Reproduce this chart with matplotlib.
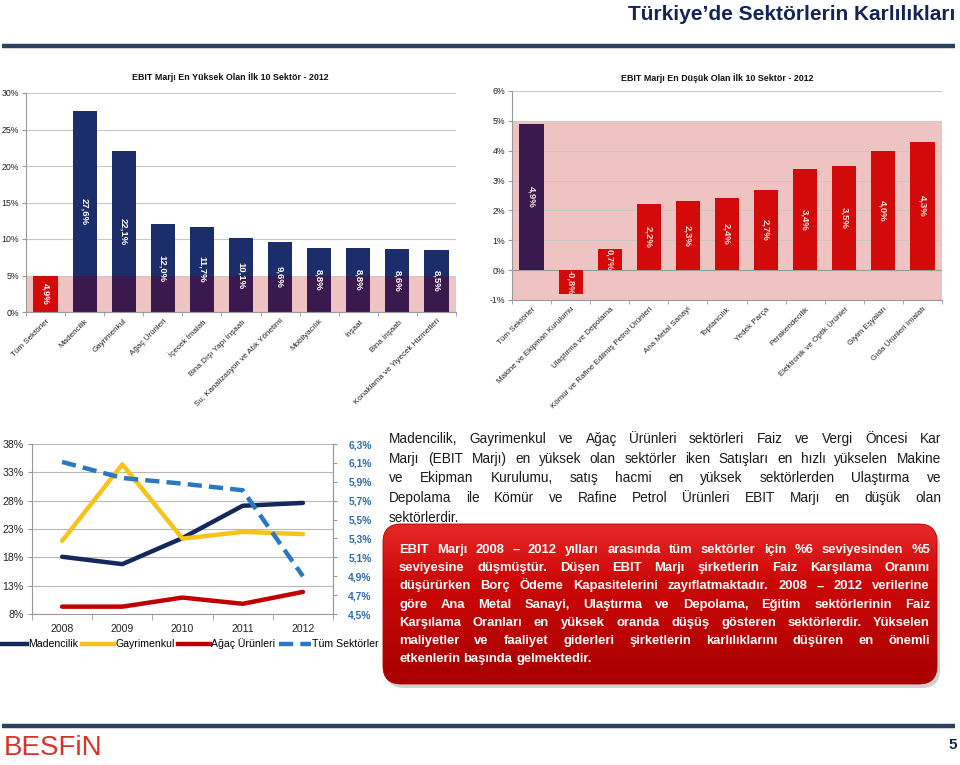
import matplotlib
matplotlib.use('Agg')
import matplotlib.pyplot as plt
import numpy as np
from matplotlib.patches import FancyBboxPatch
from matplotlib.lines import Line2D
from matplotlib.ticker import FixedLocator

plt.rcParams['font.family'] = ['Liberation Sans', 'DejaVu Sans']

W, H = 960, 765

# ---------------- data ----------------
page_title = 'Türkiye\u2019de Sektörlerin Karlılıkları'

top_title = 'EBIT Marjı En Yüksek Olan İlk 10 Sektör - 2012'
top_categories = ['Tüm Sektörler', 'Madencilik', 'Gayrimenkul', 'Ağaç Ürünleri',
                  'İçecek İmalatı', 'Bina Dışı Yapı İnşaatı',
                  'Su, Kanalizasyon ve Atık Yönetimi', 'Mobilyacılık', 'İnşaat',
                  'Bina İnşaatı', 'Konaklama ve Yiyecek Hizmetleri']
top_values = [4.9, 27.6, 22.1, 12.0, 11.7, 10.1, 9.6, 8.8, 8.8, 8.6, 8.5]
top_yticks = [0, 5, 10, 15, 20, 25, 30]

low_title = 'EBIT Marjı En Düşük Olan İlk 10 Sektör - 2012'
low_categories = ['Tüm Sektörler', 'Makine ve Ekipman Kurulumu', 'Ulaştırma ve Depolama',
                  'Kömür ve Rafine Edilmiş Petrol Ürünleri', 'Ana Metal Sanayi',
                  'Toptancılık', 'Yedek Parça', 'Perakendecilik',
                  'Elektronik ve Optik Ürünler', 'Giyim Eşyaları', 'Gıda Ürünleri İmalatı']
low_values = [4.9, -0.8, 0.7, 2.2, 2.3, 2.4, 2.7, 3.4, 3.5, 4.0, 4.3]
low_yticks = [-1, 0, 1, 2, 3, 4, 5, 6]

years = ['2008', '2009', '2010', '2011', '2012']
madencilik = [18.1, 16.8, 21.4, 27.1, 27.6]
gayrimenkul = [20.9, 34.4, 21.3, 22.5, 22.1]
agac_urunleri = [9.3, 9.3, 10.9, 9.8, 11.9]
tum_sektorler = [6.11, 5.94, 5.88, 5.81, 4.90]
left_ticks = [8, 13, 18, 23, 28, 33, 38]
right_ticks = [4.5, 4.7, 4.9, 5.1, 5.3, 5.5, 5.7, 5.9, 6.1, 6.3]
series_names = ['Madencilik', 'Gayrimenkul', 'Ağaç Ürünleri', 'Tüm Sektörler']

para1 = ('Madencilik, Gayrimenkul ve Ağaç Ürünleri sektörleri Faiz ve Vergi Öncesi Kar|'
         'Marjı (EBIT Marjı) en yüksek olan sektörler iken Satışları en hızlı yükselen Makine|'
         've Ekipman Kurulumu, satış hacmi en yüksek sektörlerden Ulaştırma ve|'
         'Depolama ile Kömür ve Rafine Petrol Ürünleri EBIT Marjı en düşük olan|'
         'sektörlerdir.')
para2 = ('EBIT Marjı 2008 \u2013 2012 yılları arasında tüm sektörler için %6 seviyesinden %5|'
         'seviyesine düşmüştür. Düşen EBIT Marjı şirketlerin Faiz Karşılama Oranını|'
         'düşürürken Borç Ödeme Kapasitelerini zayıflatmaktadır. 2008 \u2013 2012 verilerine|'
         'göre Ana Metal Sanayi, Ulaştırma ve Depolama, Eğitim sektörlerinin Faiz|'
         'Karşılama Oranları en yüksek oranda düşüş gösteren sektörlerdir. Yükselen|'
         'maliyetler ve faaliyet giderleri şirketlerin karlılıklarını düşüren en önemli|'
         'etkenlerin başında gelmektedir.')

NAVY = '#1c2d6c'
PURPLE = '#3a1a4e'
RED = '#d20a0a'
PINK = '#f0c3c3'


def rect(x0, y0, x1, y1):
    return [x0 / W, 1 - y1 / H, (x1 - x0) / W, (y1 - y0) / H]


fig = plt.figure(figsize=(W / 100, H / 100), dpi=100)
fig.patch.set_facecolor('white')

# background / overlay axes in pixel coordinates
bg = fig.add_axes([0, 0, 1, 1])
bg.set_xlim(0, W)
bg.set_ylim(H, 0)
bg.axis('off')

# header
bg.text(955, 14, page_title, ha='right', va='center', fontsize=15, fontweight='bold',
        color='#14235a')
bg.plot([2, 955], [45.5, 45.5], color='#2c4060', lw=3.2, solid_capstyle='butt')

# footer
bg.plot([2, 955], [726, 726], color='#2c4060', lw=3.2, solid_capstyle='butt')
bg.text(4, 748, 'BESFiN', ha='left', va='center', fontsize=20, color='#d9342b',
        family=['Liberation Sans Narrow', 'Liberation Sans', 'DejaVu Sans'])
bg.text(957, 745, '5', ha='right', va='center', fontsize=11, fontweight='bold',
        color='#14235a')


# ---------------- bar charts ----------------
def bar_chart(r, cats, vals, colors, ylim, yticks, band_lo, band_hi, lab_color):
    ax = fig.add_axes(rect(*r))
    x = np.arange(len(vals))
    ax.axhspan(band_lo, band_hi, color=PINK, zorder=0.5, lw=0)
    ax.bar(x, vals, width=0.62, color=colors, zorder=2)
    # portion of navy bars inside the shaded zone appears purple
    for i, v in enumerate(vals):
        if colors[i] == NAVY:
            lo = max(band_lo, min(0, v))
            hi = min(band_hi, max(0, v))
            if hi > lo:
                ax.bar(i, hi - lo, bottom=lo, width=0.62, color=PURPLE, zorder=2.1)
    for i, v in enumerate(vals):
        s = ('%.1f' % v).replace('.', ',') + '%'
        ax.text(i, v / 2, s, rotation=-90, ha='center', va='center', fontsize=6.8,
                fontweight='bold', color=lab_color, zorder=3)
    ax.set_xlim(-0.5, len(vals) - 0.5)
    ax.set_ylim(*ylim)
    ax.set_yticks(yticks)
    ax.set_yticklabels(['%d%%' % t for t in yticks], fontsize=6.3, color='#222222')
    ax.yaxis.grid(True, color='#c8c8c8', lw=0.8, zorder=0)
    ax.set_axisbelow(True)
    ax.set_xticks(x)
    ax.set_xticklabels(cats, rotation=45, ha='right', rotation_mode='anchor',
                       fontsize=5.8, color='#222222')
    ax.tick_params(axis='x', length=0, pad=4)
    ax.tick_params(axis='y', length=3, color='#999999', pad=2)
    ax.xaxis.set_minor_locator(FixedLocator(np.arange(-0.5, len(vals), 1.0)))
    ax.tick_params(axis='x', which='minor', length=3, color='#999999')
    for s in ['top', 'right']:
        ax.spines[s].set_visible(False)
    for s in ['left', 'bottom']:
        ax.spines[s].set_color('#999999')
    ax.set_facecolor('none')
    return ax


top_colors = [RED] + [NAVY] * (len(top_values) - 1)
ax1 = bar_chart((26, 93, 456, 312), top_categories, top_values, top_colors, (0, 30),
                top_yticks, 0, top_values[0], 'white')
bg.text(230, 77, top_title, ha='center', va='center', fontsize=6.4, fontweight='bold',
        color='#111111')

low_colors = [NAVY] + [RED] * (len(low_values) - 1)
ax2 = bar_chart((512, 91, 942, 300), low_categories, low_values, low_colors, (-1, 6),
                low_yticks, -1, 5, '#f8dede')
ax2.axhline(0, color='#999999', lw=0.8, zorder=1.5)
bg.text(717, 78, low_title, ha='center', va='center', fontsize=6.4, fontweight='bold',
        color='#111111')

# ---------------- line chart ----------------
ax3 = fig.add_axes(rect(32, 444, 333, 614))
xl = np.arange(len(years))
c_mad, c_gay, c_aga, c_tum = '#14285c', '#f7c21a', '#c00000', '#2a78c4'
ax3.plot(xl, madencilik, color=c_mad, lw=3.2, solid_capstyle='round', zorder=3)
ax3.plot(xl, gayrimenkul, color=c_gay, lw=3.2, solid_capstyle='round', zorder=3)
ax3.plot(xl, agac_urunleri, color=c_aga, lw=3.2, solid_capstyle='round', zorder=3)
ax3.set_xlim(-0.5, len(years) - 0.5)
ax3.set_ylim(left_ticks[0], left_ticks[-1])
ax3.set_yticks(left_ticks)
ax3.set_yticklabels(['%d%%' % t for t in left_ticks], fontsize=7.6, color='#222222')
ax3.set_xticks(xl)
ax3.set_xticklabels(years, fontsize=7.6, color='#222222')
ax3.tick_params(axis='x', length=0, pad=7)
ax3.xaxis.set_minor_locator(FixedLocator(np.arange(-0.5, len(years), 1.0)))
ax3.tick_params(axis='x', which='minor', length=4, color='#999999')
ax3.tick_params(axis='y', length=3, color='#999999', pad=3)
ax3.yaxis.grid(True, color='#b8b8b8', lw=0.8)
ax3.set_axisbelow(True)
ax3.spines['top'].set_visible(False)
for s in ['left', 'right', 'bottom']:
    ax3.spines[s].set_color('#999999')

ax4 = ax3.twinx()
ax4.plot(xl, tum_sektorler, color=c_tum, lw=3.2, dashes=(3.2, 1.6), zorder=3)
ax4.set_ylim(right_ticks[0], right_ticks[-1])
ax4.set_yticks(right_ticks)
ax4.set_yticklabels([('%.1f' % t).replace('.', ',') + '%' for t in right_ticks],
                    fontsize=7.4, fontweight='bold', color='#2e6db0')
ax4.tick_params(axis='y', length=3, color='#999999', pad=8)
ax4.spines['top'].set_visible(False)
ax4.spines['right'].set_color('#999999')
ax4.spines['left'].set_visible(False)
ax4.spines['bottom'].set_visible(False)

handles = [Line2D([], [], color=c_mad, lw=3.2),
           Line2D([], [], color=c_gay, lw=3.2),
           Line2D([], [], color=c_aga, lw=3.2),
           Line2D([], [], color=c_tum, lw=3.2, dashes=(3.2, 1.6))]
fig.legend(handles, series_names, loc='center', bbox_to_anchor=(187 / W, 1 - 644 / H),
           ncol=4, frameon=False, fontsize=7.6, handlelength=3.0, handletextpad=0.15,
           columnspacing=0.35, borderaxespad=0, borderpad=0)

# ---------------- text blocks ----------------
renderer = fig.canvas.get_renderer()


def measure(s, **kw):
    t = bg.text(0, 0, s, **kw)
    w = t.get_window_extent(renderer).width
    t.remove()
    return w


def justify(par, x0, x1, y0, dy, **kw):
    lines = par.split('|')
    sp = measure('a a', **kw) - measure('aa', **kw)
    for k, line in enumerate(lines):
        words = line.split(' ')
        widths = [measure(w, **kw) for w in words]
        y = y0 + k * dy
        if k == len(lines) - 1 or len(words) == 1:
            gap = sp
        else:
            gap = (x1 - x0 - sum(widths)) / (len(words) - 1)
        x = x0
        for w, wd in zip(words, widths):
            bg.text(x, y, w, ha='left', va='center', **kw)
            x += wd + gap


justify(para1, 389, 941, 439, 19.7, fontsize=9.8, color='#1a1a1a', zorder=5)

# red rounded box with gradient and shadow
shadow = FancyBboxPatch((386, 528), 554, 160, boxstyle='round,pad=0,rounding_size=18',
                        facecolor='#000000', alpha=0.18, edgecolor='none', zorder=1)
bg.add_patch(shadow)
box = FancyBboxPatch((383, 524), 554, 160, boxstyle='round,pad=0,rounding_size=18',
                     facecolor='none', edgecolor='#b00000', lw=0.6, zorder=3)
bg.add_patch(box)
grad = np.linspace(0, 1, 256)[:, None]
top_c = np.array([232, 40, 40]) / 255
mid_c = np.array([205, 8, 8]) / 255
bot_c = np.array([168, 0, 0]) / 255
img = np.where(grad < 0.35, top_c + (mid_c - top_c) * (grad / 0.35),
               mid_c + (bot_c - mid_c) * ((grad - 0.35) / 0.65))
img = np.repeat(img.reshape(256, 1, 3), 2, axis=1)
im = bg.imshow(img, extent=[383, 937, 684, 524], aspect='auto',
               zorder=2, interpolation='bilinear')
im.set_clip_path(box)
bg.set_xlim(0, W)
bg.set_ylim(H, 0)

justify(para2, 399, 930, 550, 18.2, fontsize=9.4, fontweight='bold', color='white',
        zorder=6)

fig.savefig('out.png', dpi=100, facecolor='white')
